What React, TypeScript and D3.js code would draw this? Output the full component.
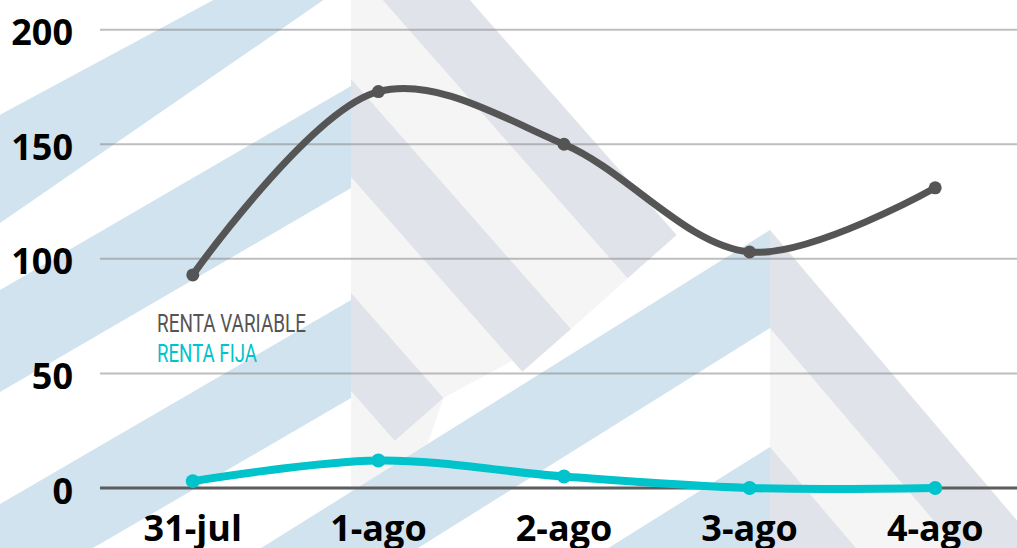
import React from "react";
import * as d3 from "d3";

// datos del gráfico
const categories = ["31-jul", "1-ago", "2-ago", "3-ago", "4-ago"];
const rentaVariable = [93, 173, 150, 103, 131];
const rentaFija = [3, 12, 5, 0, 0];
const yTicks = [0, 50, 100, 150, 200];
const seriesNames = ["RENTA VARIABLE", "RENTA FIJA"];

const W = 1017;
const H = 548;

// marca de agua (logo de chevrones): lo/li = vértices izquierdos, ro/ri = derechos
const logos = [
  {
    cx: 351,
    sR: 0.88,
    chevs: [
      { lo: -74, li: -19, sLo: 1.86, sLi: 1.45, ro: -135, ri: -36, len: 370 },
      { lo: 86, li: 188, sLo: 1.72, sLi: 1.72, ro: 79, ri: 177, len: 250 },
      { lo: 300, li: 398, sLo: 1.72, sLi: 1.72, ro: 293, ri: 391, len: 105 },
      { lo: 514, li: 612, sLo: 1.72, sLi: 1.72, ro: 507, ri: 605, len: 45 },
    ],
  },
  {
    cx: 770,
    sR: 0.85,
    chevs: [
      { lo: 230, li: 328, sLo: 1.6, sLi: 1.6, ro: 230, ri: 328, len: 500 },
      { lo: 447, li: 545, sLo: 1.6, sLi: 1.6, ro: 447, ri: 545, len: 300 },
    ],
  },
];

const BLUE = "#d0e3ee";
const SHADE = "#f5f5f5";
const LEG = "#e0e4ea";

const pts = (p: number[][]) => p.map((q) => q.join(",")).join(" ");

const Watermark = () => (
  <g>
    {logos.map((lg, i) => {
      const { cx, sR } = lg;
      const ends = lg.chevs.map((c) => [cx + sR * c.len, c.ro + c.len]);
      const last = ends[ends.length - 1];
      const shade = [[cx, lg.chevs[0].ro], ...ends, [cx, Math.max(last[1], H + 5)]];
      return (
        <g key={i}>
          <polygon points={pts(shade)} fill={SHADE} />
          {lg.chevs.map((c, j) => {
            const t = c.ri - c.ro;
            const E = ends[j];
            const lam = t / (sR + 1 / sR);
            const C = [E[0] - lam, E[1] + lam * sR];
            const L = 1000;
            const left = [
              [cx, c.lo],
              [cx - c.sLo * L, c.lo + L],
              [cx - c.sLi * L, c.li + L],
              [cx, c.li],
            ];
            const right = [[cx, c.ro], E, C, [cx, c.ri]];
            return (
              <g key={j}>
                <polygon points={pts(right)} fill={LEG} />
                <polygon points={pts(left)} fill={BLUE} />
              </g>
            );
          })}
        </g>
      );
    })}
  </g>
);

export default function App() {
  const x = d3.scalePoint<string>().domain(categories).range([100, 1028]).padding(0.5);
  const y = d3.scaleLinear().domain([0, 200]).range([488, 29.7]);

  const line = d3
    .line<number>()
    .x((_, i) => x(categories[i]) as number)
    .y((d) => y(d))
    .curve(d3.curveCatmullRom.alpha(0.5));

  const series = [
    { name: seriesNames[0], values: rentaVariable, color: "#555555", width: 7, r: 6.5 },
    { name: seriesNames[1], values: rentaFija, color: "#00c3cb", width: 8, r: 7 },
  ];

  return (
    <svg
      width={W}
      height={H}
      style={{ position: "absolute", left: 0, top: 0, background: "#fff" }}
    >
      <Watermark />

      {/* rejilla */}
      {yTicks.map((t) => (
        <line
          key={t}
          x1={100}
          x2={W}
          y1={y(t)}
          y2={y(t)}
          stroke={t === 0 ? "#5c5c5c" : "#888"}
          strokeOpacity={t === 0 ? 1 : 0.55}
          strokeWidth={t === 0 ? 3 : 2}
        />
      ))}

      {/* etiquetas eje Y */}
      {yTicks.map((t) => (
        <text
          key={t}
          x={73}
          y={y(t) + 15.5}
          textAnchor="end"
          fontFamily="'Open Sans', sans-serif"
          fontWeight={700}
          fontSize={36}
          fill="#000"
        >
          {t}
        </text>
      ))}

      {/* etiquetas eje X */}
      {categories.map((c) => (
        <text
          key={c}
          x={x(c)}
          y={541}
          textAnchor="middle"
          fontFamily="'Open Sans', sans-serif"
          fontWeight={700}
          fontSize={36}
          fill="#000"
        >
          {c}
        </text>
      ))}

      {/* series */}
      {series.map((s) => (
        <g key={s.name}>
          <path
            d={line(s.values) || ""}
            fill="none"
            stroke={s.color}
            strokeWidth={s.width}
            strokeLinecap="round"
          />
          {s.values.map((v, i) => (
            <circle key={i} cx={x(categories[i])} cy={y(v)} r={s.r} fill={s.color} />
          ))}
        </g>
      ))}

      {/* leyenda */}
      <text
        x={157}
        y={332}
        fontFamily="Roboto, sans-serif"
        fontWeight={400}
        fontSize={26.5}
        fill="#555555"
        textLength={149}
        lengthAdjust="spacingAndGlyphs"
      >
        {seriesNames[0]}
      </text>
      <text
        x={157}
        y={362}
        fontFamily="Roboto, sans-serif"
        fontWeight={400}
        fontSize={26.5}
        fill="#00c3cb"
        textLength={100}
        lengthAdjust="spacingAndGlyphs"
      >
        {seriesNames[1]}
      </text>
    </svg>
  );
}
